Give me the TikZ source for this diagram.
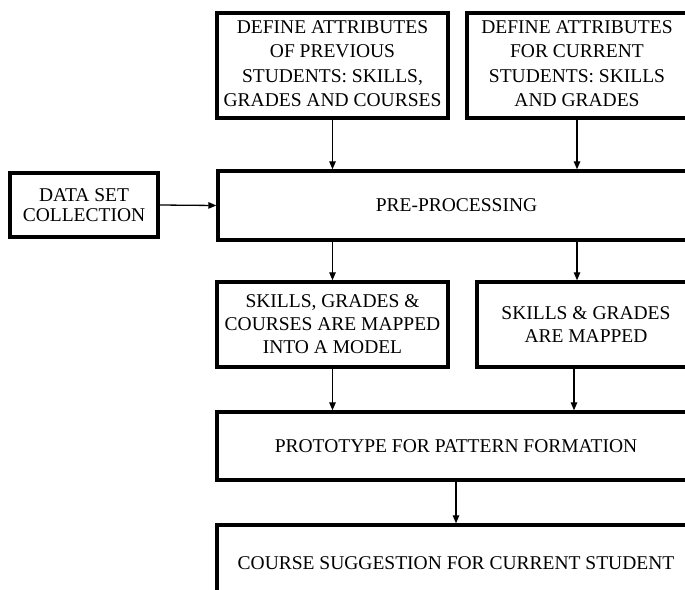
\documentclass[tikz,border=0pt]{standalone}
\usepackage{fontspec}
\setmainfont{Liberation Serif}
\usetikzlibrary{arrows.meta}
\begin{document}
\begin{tikzpicture}[x=1pt,y=1pt,
  box/.style={draw=black, line width=3.4pt, rectangle, align=center,
    inner sep=0pt, font=\fontsize{19.5}{24.5}\selectfont},
  arr/.style={line width=1.3pt, -{Triangle[length=8pt,width=6.5pt]}}]
\useasboundingbox (0,0) rectangle (685,-589);
\begin{scope}
\clip (0,0) rectangle (685,-589);
% input attribute boxes
\node[box, minimum width=231pt, minimum height=105pt, text depth=4pt] (prev) at (332.5,-65.5)
  {DEFINE ATTRIBUTES\\OF PREVIOUS\\STUDENTS:  SKILLS,\\GRADES AND  COURSES};
\node[box, minimum width=220pt, minimum height=105pt, text depth=4pt] (curr) at (577,-65.5)
  {DEFINE ATTRIBUTES\\FOR CURRENT\\STUDENTS:  SKILLS\\AND GRADES};
% data source and pre-processing
\node[box, minimum width=148pt, minimum height=64pt, font=\fontsize{19.5}{20}\selectfont] (data) at (84,-205)
  {DATA SET\\COLLECTION};
\node[box, minimum width=477pt, minimum height=69pt] (pre) at (456.5,-205.5)
  {PRE-PROCESSING};
% mapping boxes
\node[box, minimum width=231pt, minimum height=85pt, font=\fontsize{19.5}{23}\selectfont] (mapA) at (332.5,-324.5)
  {SKILLS, GRADES  \&\\COURSES ARE MAPPED\\INTO A MODEL};
\node[box, minimum width=218pt, minimum height=85pt, font=\fontsize{19.5}{23}\selectfont] (mapB) at (586,-324.5)
  {SKILLS \& GRADES\\ARE MAPPED};
\coordinate (mapBout) at ([xshift=-12pt]mapB.south);
% pattern formation and output
\node[box, minimum width=478pt, minimum height=68pt] (proto) at (456,-446)
  {PROTOTYPE FOR PATTERN FORMATION};
\node[box, minimum width=478pt, minimum height=76pt] (sugg) at (456,-563)
  {COURSE SUGGESTION FOR CURRENT  STUDENT};
% connectors
\draw[arr] (prev.south) -- (pre.north -| prev.south);
\draw[arr] (curr.south) -- (pre.north -| curr.south);
\draw[arr] (data.east) -- (pre.west);
\draw[arr] (pre.south -| prev.south) -- (mapA.north);
\draw[arr] (pre.south -| curr.south) -- (mapB.north -| curr.south);
\draw[arr] (mapA.south) -- (proto.north -| mapA.south);
\draw[arr] (mapBout) -- (proto.north -| mapBout);
\draw[arr] (proto.south) -- (sugg.north);
\end{scope}
\end{tikzpicture}
\end{document}
